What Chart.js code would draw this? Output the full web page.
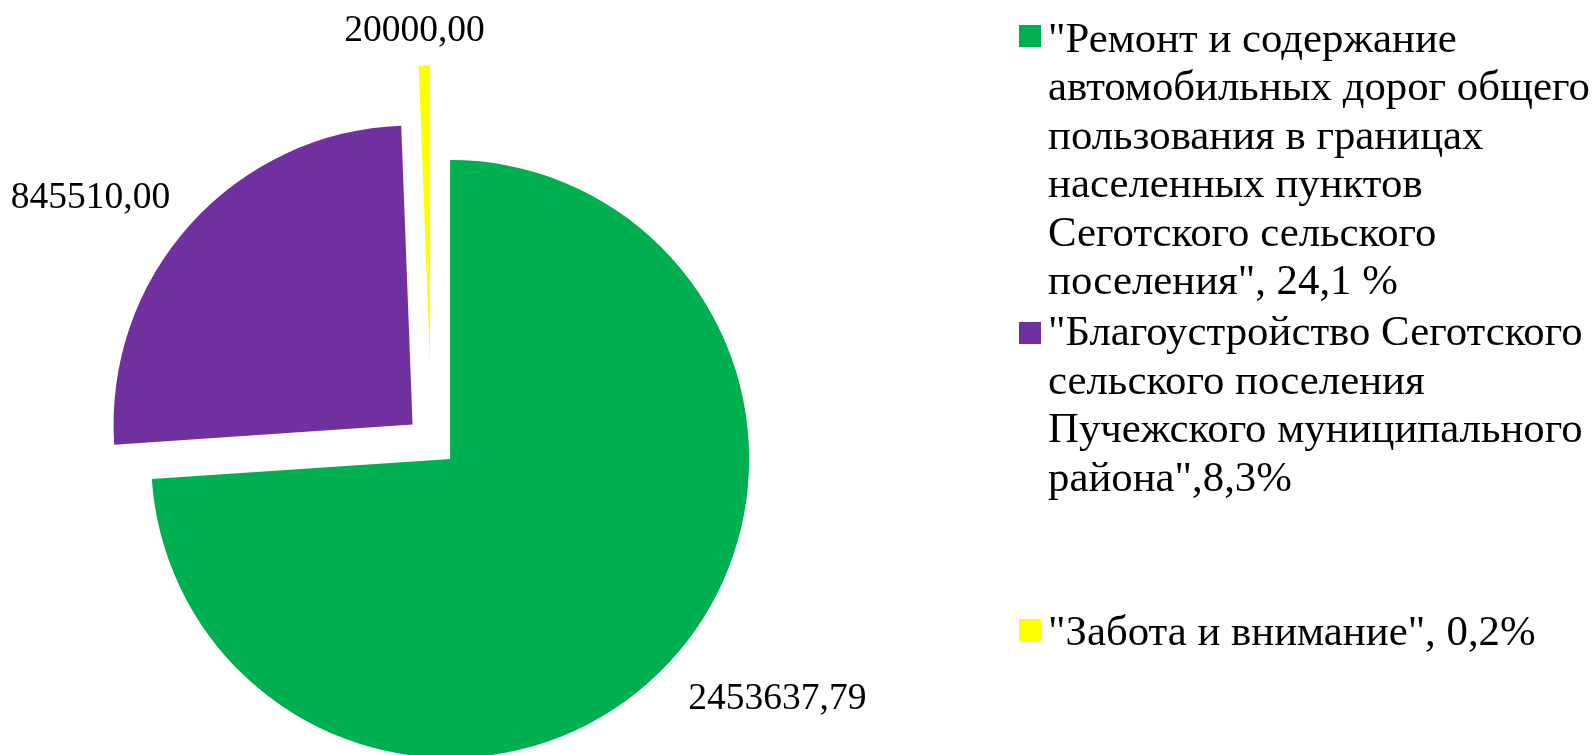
<!DOCTYPE html>
<html lang="ru">
<head>
<meta charset="utf-8">
<script src="https://cdn.jsdelivr.net/npm/chart.js@4.4.1/dist/chart.umd.min.js"></script>
<style>
  html, body { margin: 0; padding: 0; background: #fff; overflow: hidden; }
  #wrap { position: relative; width: 1593px; height: 755px; }
  #myChart { position: absolute; left: 0; top: 0; }
  .legend-item {
    position: absolute;
    left: 1048px;
    font-family: "Liberation Serif", "Times New Roman", serif;
    font-size: 42.8px;
    line-height: 48.5px;
    color: #000;
    white-space: nowrap;
  }
  .legend-box { position: absolute; left: -29px; width: 22px; height: 22px; }
</style>
</head>
<body>
<div id="wrap">
  <canvas id="myChart" width="1593" height="755"></canvas>
  <div id="legend"></div>
</div>
<script>
const categories = [
  ['"Ремонт и содержание', "автомобильных дорог общего", "пользования в границах", "населенных пунктов", "Сеготского сельского", 'поселения", 24,1 %'],
  ['"Благоустройство Сеготского', "сельского поселения", "Пучежского муниципального", 'района",8,3%'],
  ['"Забота и внимание", 0,2%'],
];
const values = [2453637.79, 845510.0, 20000.0];
const colors = ["#00B050", "#7030A0", "#FFFF00"];

// how far each slice is pulled out from the centre (px)
const explode = [25.5, 25.5, 77];
const legendTops = [13.5, 307, 607];
const legendBoxTops = [11.5, 14.7, 12];

const fmt = (v) => v.toFixed(2).replace(".", ",");

// pull slices out along their own bisector
const explodePlugin = {
  id: "explode",
  afterDatasetsUpdate(chart) {
    const meta = chart.getDatasetMeta(0);
    meta.data.forEach((arc, i) => {
      const mid = (arc.startAngle + arc.endAngle) / 2;
      arc.x += Math.cos(mid) * explode[i];
      arc.y += Math.sin(mid) * explode[i];
    });
  },
};

// value labels outside the end of each slice
const valueLabels = {
  id: "valueLabels",
  afterDatasetsDraw(chart) {
    const { ctx } = chart;
    const meta = chart.getDatasetMeta(0);
    const clamp = (v) => Math.max(-1, Math.min(1, v * 7));
    ctx.save();
    ctx.font = '37.5px "Liberation Serif"';
    ctx.fillStyle = "#000";
    ctx.textAlign = "center";
    ctx.textBaseline = "alphabetic";
    meta.data.forEach((arc, i) => {
      const mid = (arc.startAngle + arc.endAngle) / 2;
      const dx = Math.cos(mid);
      const dy = Math.sin(mid);
      const r = arc.outerRadius + 27;
      const text = fmt(values[i]);
      const w = ctx.measureText(text).width;
      const h = 25;
      const cy = arc.y + dy * r + clamp(dy) * h / 2;
      ctx.fillText(text, arc.x + dx * r + clamp(dx) * w / 2, cy + h / 2 + 2);
    });
    ctx.restore();
  },
};

const ctx = document.getElementById("myChart");

new Chart(ctx, {
  type: "pie",
  data: {
    labels: categories.map((c) => c.join(" ")),
    datasets: [
      {
        data: values,
        backgroundColor: colors,
        borderWidth: 0,
        radius: 299,
      },
    ],
  },
  options: {
    responsive: false,
    animation: false,
    events: [],
    layout: { padding: { left: 0, top: 128, right: 730, bottom: 0 } },
    plugins: {
      legend: { display: false },
      tooltip: { enabled: false },
    },
  },
  plugins: [explodePlugin, valueLabels],
});

// legend on the right
const legend = document.getElementById("legend");
categories.forEach((lines, i) => {
  const item = document.createElement("div");
  item.className = "legend-item";
  item.style.top = legendTops[i] + "px";
  const box = document.createElement("span");
  box.className = "legend-box";
  box.style.background = colors[i];
  box.style.top = legendBoxTops[i] + "px";
  item.appendChild(box);
  lines.forEach((line, j) => {
    if (j > 0) item.appendChild(document.createElement("br"));
    item.appendChild(document.createTextNode(line));
  });
  legend.appendChild(item);
});
</script>
</body>
</html>
